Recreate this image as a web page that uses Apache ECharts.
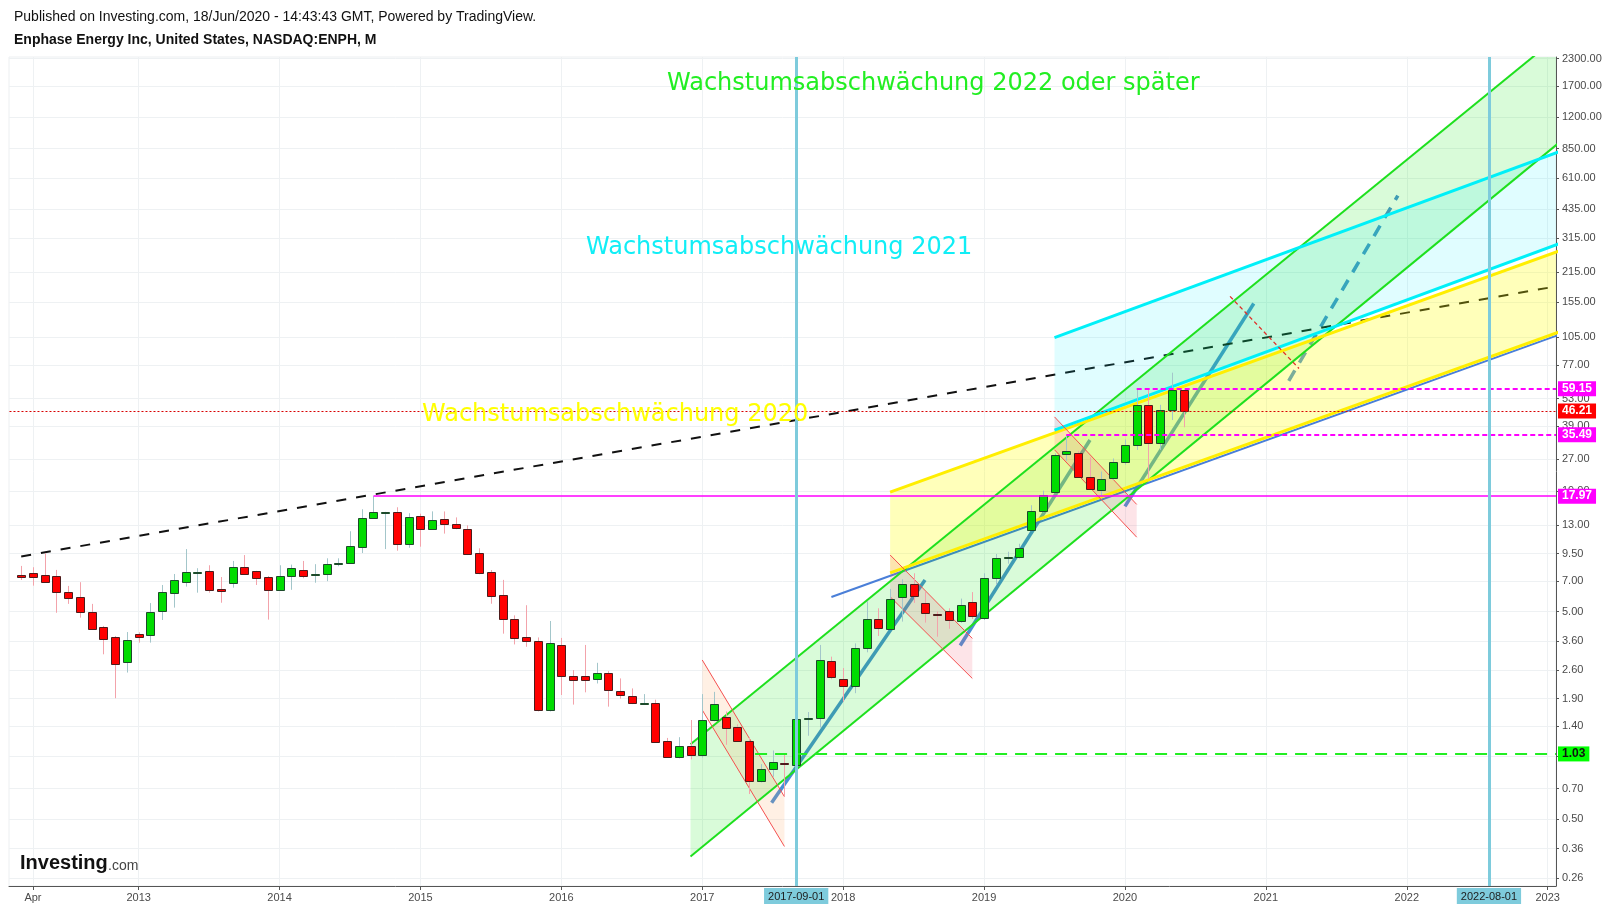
<!DOCTYPE html>
<html>
<head>
<meta charset="utf-8">
<title>Enphase Energy Inc, NASDAQ:ENPH, M</title>
<script src="https://cdn.jsdelivr.net/npm/echarts@6/dist/echarts.min.js"></script>
<style>
  html, body { margin: 0; padding: 0; background: #ffffff; }
  #chart { width: 1614px; height: 910px; }
</style>
</head>
<body>
<div id="chart"></div>
<script>
// ---- Monthly candles, ENPH (NASDAQ), Mar 2012 .. Jun 2020 ----
const months = [
  '2012-03','2012-04','2012-05','2012-06','2012-07','2012-08','2012-09','2012-10','2012-11','2012-12',
  '2013-01','2013-02','2013-03','2013-04','2013-05','2013-06','2013-07','2013-08','2013-09','2013-10','2013-11','2013-12',
  '2014-01','2014-02','2014-03','2014-04','2014-05','2014-06','2014-07','2014-08','2014-09','2014-10','2014-11','2014-12',
  '2015-01','2015-02','2015-03','2015-04','2015-05','2015-06','2015-07','2015-08','2015-09','2015-10','2015-11','2015-12',
  '2016-01','2016-02','2016-03','2016-04','2016-05','2016-06','2016-07','2016-08','2016-09','2016-10','2016-11','2016-12',
  '2017-01','2017-02','2017-03','2017-04','2017-05','2017-06','2017-07','2017-08','2017-09','2017-10','2017-11','2017-12',
  '2018-01','2018-02','2018-03','2018-04','2018-05','2018-06','2018-07','2018-08','2018-09','2018-10','2018-11','2018-12',
  '2019-01','2019-02','2019-03','2019-04','2019-05','2019-06','2019-07','2019-08','2019-09','2019-10','2019-11','2019-12',
  '2020-01','2020-02','2020-03','2020-04','2020-05','2020-06'
];
const opens = [
  7.47,7.64,7.47,7.39,6.19,5.86,4.96,4.19,3.75,2.85,
  3.88,3.84,5.01,6.12,6.92,7.70,7.81,6.40,6.84,8.17,7.81,7.31,
  6.33,7.39,7.90,7.55,7.56,8.43,8.55,10.19,14.05,15.00,15.03,10.53,
  14.38,12.45,13.92,13.15,12.45,9.53,7.73,5.99,4.59,3.75,3.59,1.67,
  3.44,2.44,2.44,2.36,2.52,2.07,1.95,1.79,1.82,1.19,0.99,1.12,
  1.015,1.50,1.55,1.39,1.19,0.76,0.87,0.935,0.91,1.53,1.53,2.88,
  2.37,2.17,3.32,4.59,4.13,5.86,6.76,5.48,4.85,5.00,4.52,5.56,
  4.64,7.23,9.15,9.12,12.31,15.20,18.75,28.60,28.90,22.17,19.39,21.90,
  26.20,31.60,49.20,32.30,46.60,58.20
];
const highs = [
  8.29,8.17,9.54,7.93,6.64,6.92,5.44,4.26,3.81,3.98,
  3.97,5.49,6.71,7.58,9.99,8.08,8.35,7.33,8.76,9.35,7.85,7.41,
  8.35,8.41,8.76,8.45,9.02,9.02,12.18,15.54,17.97,15.10,15.89,14.87,
  14.80,15.18,15.17,14.20,13.00,10.08,7.92,7.10,4.79,5.36,3.75,4.50,
  3.73,2.61,3.45,2.83,2.58,2.38,2.13,2.00,1.88,1.23,1.24,1.50,
  2.00,2.05,1.65,1.43,1.24,0.92,1.07,1.04,1.65,1.64,3.45,3.03,
  2.67,3.51,5.62,5.18,6.42,7.15,7.64,6.21,5.00,5.18,5.77,6.20,
  7.64,9.46,9.70,10.60,16.25,19.10,28.90,35.49,29.70,27.66,23.60,27.30,
  33.70,59.15,58.50,49.50,70.70,58.30
];
const lows = [
  7.09,6.66,6.88,4.93,5.44,4.67,4.07,3.11,1.91,2.54,
  3.54,3.54,4.55,5.22,6.59,6.16,6.16,5.51,6.51,7.50,6.71,4.57,
  6.30,6.36,7.23,6.88,7.00,8.26,8.50,9.56,14.00,9.99,9.81,10.14,
  10.26,12.40,11.86,12.45,9.35,7.56,5.45,3.91,3.47,3.38,1.65,1.65,
  1.98,1.78,2.04,2.25,1.74,1.90,1.79,1.78,1.17,0.99,0.98,0.97,
  0.99,1.48,1.14,1.18,0.66,0.75,0.80,0.64,0.90,1.26,1.38,2.36,
  1.84,2.02,3.18,3.81,4.10,4.47,5.50,4.42,3.78,4.13,4.41,4.60,
  4.55,6.71,8.50,9.00,12.20,15.00,18.60,26.60,22.00,19.30,17.80,21.50,
  25.50,30.00,21.80,30.00,41.80,38.60
];
const closes = [
  7.28,7.31,6.92,6.19,5.79,4.96,4.13,3.67,2.78,3.63,
  3.75,4.96,6.19,7.07,7.73,7.75,6.33,6.26,8.17,7.56,7.23,6.33,
  7.39,8.08,7.39,7.56,8.44,8.55,10.30,14.07,15.03,15.05,10.53,14.22,
  12.45,13.76,13.13,12.59,9.43,7.64,5.92,4.59,3.71,3.58,1.67,3.51,
  2.44,2.33,2.33,2.52,2.09,1.99,1.80,1.82,1.18,1.00,1.12,1.015,
  1.50,1.79,1.37,1.19,0.76,0.87,0.94,0.925,1.51,1.535,2.91,2.41,
  2.20,3.32,4.59,4.15,5.73,6.76,5.92,4.90,4.82,4.52,5.40,4.77,
  7.23,9.02,9.20,10.08,15.20,18.14,28.29,29.60,22.17,19.39,21.82,26.17,
  31.60,49.20,32.30,46.60,58.20,46.21
];

// ---- Axis ticks ----
const xTickDates  = ['2012-04','2013-01','2014-01','2015-01','2016-01','2017-01','2018-01','2019-01','2020-01','2021-01','2022-01','2023-01'];
const xTickLabels = ['Apr','2013','2014','2015','2016','2017','2018','2019','2020','2021','2022','2023'];
const yTicks = [0.26,0.36,0.5,0.7,1,1.4,1.9,2.6,3.6,5,7,9.5,13,19,27,39,53,77,105,155,215,315,435,610,850,1200,1700,2300];

// ---- Horizontal price levels: value, first month (months since Jan 2012) ----
const levelValues = [59.15, 46.21, 35.49, 17.97, 1.03];
const levelStarts = [97, 1, 91, 32, 64.5];
// ---- Marked dates (vertical lines) ----
const markedDates = ['2017-09-01', '2022-08-01'];

// ---- Drawings, anchor points as [months since Jan 2012, price] ----
const trendLine      = [[2, 9.2], [135, 194]];
const greenTop       = [[59, 1.147], [135, 3690]];
const greenBottom    = [[59, 0.330], [135, 1127]];
const cyanTop        = [[90, 104.4], [135, 903]];
const cyanBottom     = [[90, 37.4], [135, 326]];
const yellowTop      = [[76, 18.8], [135, 300]];
const yellowBottom   = [[76, 7.67], [135, 122]];
const blueSupport    = [[71, 5.87], [135, 118.4]];
const rally2017      = [[65.91, 0.600], [78.97, 7.09]];
const rally2019      = [[81.97, 3.43], [93.02, 33.5]];
const rally2020      = [[96.0, 16.05], [106.97, 152.2]];
const rallyProjected = [[109.95, 64.6], [119.24, 504]];
const pullbackPath   = [[104.95, 164.8], [110.82, 74.1]];
const flag2017Top    = [[60, 2.92], [67, 0.641]];
const flag2017Bottom = [[60, 1.677], [67, 0.369]];
const flag2018Top    = [[76, 9.36], [83, 3.71]];
const flag2018Bottom = [[76, 5.89], [83, 2.38]];
const flag2019Top    = [[90, 43.3], [97, 16.4]];
const flag2019Bottom = [[90, 30.06], [97, 11.4]];

// months since Jan 2012
function monthIndex(s) {
  const p = s.split('-');
  return (parseInt(p[0], 10) - 2012) * 12 + (parseInt(p[1], 10) - 1);
}

const X_MIN = 0.96, X_MAX = 132.71;
const Y_MIN = 0.238, Y_MAX = 2345;

const candleData = months.map((m, i) => [monthIndex(m), opens[i], closes[i], lows[i], highs[i]]);
const xTickValues = xTickDates.map(monthIndex);
const xLabelOf = {};
xTickValues.forEach((v, i) => { xLabelOf[v] = xTickLabels[i]; });

const chart = echarts.init(document.getElementById('chart'), null, { renderer: 'canvas' });

function fillSeries(top, bottom, fill, z) {
  const pts = [top[0], top[1], bottom[1], bottom[0]];
  return {
    type: 'custom', z: z, clip: true, silent: true, animation: false,
    data: pts,
    renderItem: function (params, api) {
      if (params.dataIndex !== 0) return null;
      return {
        type: 'polygon',
        shape: { points: pts.map(p => api.coord(p)) },
        style: { fill: fill }
      };
    }
  };
}

function segSeries(points, color, width, type, z) {
  return {
    type: 'line', data: points, z: z, symbol: 'none', showSymbol: false,
    silent: true, clip: true, animation: false,
    lineStyle: { color: color, width: width, type: type || 'solid' }
  };
}

const GREEN_LINE = '#1ee01e';
const FLAG_LINE = '#f5504f';

function levelLine(i, color, width, type, labelBg, labelColor) {
  return [
    {
      coord: [levelStarts[i], levelValues[i]],
      lineStyle: { color: color, width: width, type: type },
      label: {
        show: true, position: 'end', distance: 2,
        formatter: levelValues[i].toFixed(2),
        backgroundColor: labelBg, color: labelColor,
        fontFamily: 'Liberation Sans, Arial, sans-serif', fontSize: 12, fontWeight: 'bold',
        padding: [2, 4, 1, 4]
      }
    },
    { coord: [X_MAX, levelValues[i]] }
  ];
}

function dateLine(d) {
  const m = monthIndex(d);
  return [
    {
      coord: [m, Y_MIN],
      lineStyle: { color: '#7ecbdc', width: 3, type: 'solid' },
      label: {
        show: true, position: 'start', distance: 2,
        formatter: d,
        backgroundColor: '#7ecbdc', color: '#1d1d1d',
        fontFamily: 'Liberation Sans, Arial, sans-serif', fontSize: 11,
        padding: [3, 4, 2, 4]
      }
    },
    { coord: [m, Y_MAX] }
  ];
}

const option = {
  backgroundColor: '#ffffff',
  animation: false,
  grid: { left: 9, right: 58, top: 57, bottom: 24, show: true, borderColor: '#eceff1', borderWidth: 1 },
  xAxis: {
    type: 'value', min: X_MIN, max: X_MAX,
    axisLine: { show: true, lineStyle: { color: '#555555', width: 1 } },
    axisTick: { show: true, length: 4, customValues: xTickValues, lineStyle: { color: '#555555' } },
    axisLabel: {
      customValues: xTickValues, margin: 6,
      color: '#4a4a4a', fontFamily: 'Liberation Sans, Arial, sans-serif', fontSize: 11,
      formatter: v => xLabelOf[Math.round(v)] || ''
    },
    splitLine: { show: true, lineStyle: { color: '#eef1f3', width: 1 } }
  },
  yAxis: {
    type: 'log', logBase: 10, min: Y_MIN, max: Y_MAX, position: 'right',
    axisLine: { show: true, lineStyle: { color: '#555555', width: 1 } },
    axisTick: { show: true, length: 3, customValues: yTicks, lineStyle: { color: '#555555' } },
    axisLabel: {
      customValues: yTicks, margin: 6,
      color: '#4a4a4a', fontFamily: 'Liberation Sans, Arial, sans-serif', fontSize: 11,
      formatter: v => Number(v).toFixed(2)
    },
    splitLine: { show: true, lineStyle: { color: '#eef1f3', width: 1 } }
  },
  graphic: [
    { type: 'text', x: 14, y: 17, z: 100, style: { text: 'Published on Investing.com, 18/Jun/2020 - 14:43:43 GMT, Powered by TradingView.', fill: '#111', font: '14px "Liberation Sans", Arial, sans-serif', verticalAlign: 'middle' } },
    { type: 'text', x: 14, y: 40, z: 100, style: { text: 'Enphase Energy Inc, United States, NASDAQ:ENPH, M', fill: '#111', font: 'bold 14px "Liberation Sans", Arial, sans-serif', verticalAlign: 'middle' } },
    { type: 'text', x: 667, y: 84, z: 100, style: { text: 'Wachstumsabschwächung 2022 oder später', fill: '#22ee22', font: '24px "DejaVu Sans", sans-serif', verticalAlign: 'middle' } },
    { type: 'text', x: 586, y: 248, z: 100, style: { text: 'Wachstumsabschwächung 2021', fill: '#11eef6', font: '24px "DejaVu Sans", sans-serif', verticalAlign: 'middle' } },
    { type: 'text', x: 422, y: 415, z: 100, style: { text: 'Wachstumsabschwächung 2020', fill: '#ffff00', font: '24px "DejaVu Sans", sans-serif', verticalAlign: 'middle' } },
    { type: 'text', x: 20, y: 863, z: 100, style: { text: 'Investing', fill: '#111', font: 'bold 20px "Liberation Sans", Arial, sans-serif', verticalAlign: 'middle' } },
    { type: 'text', x: 108, y: 866, z: 100, style: { text: '.com', fill: '#444', font: '14px "Liberation Sans", Arial, sans-serif', verticalAlign: 'middle' } }
  ],
  series: [
    // trend lines underneath the channel fills
    segSeries(rally2017, '#4a8fd4', 3.5, 'solid', 2),
    segSeries(rally2019, '#4a8fd4', 3.5, 'solid', 2),
    segSeries(rally2020, '#4a8fd4', 3.5, 'solid', 2),
    segSeries(rallyProjected, '#4a8fd4', 3.5, [12, 9], 2),
    segSeries(blueSupport, '#4a7fd8', 2, 'solid', 2),
    segSeries(trendLine, '#111111', 2, [10, 10], 2),

    // channel fills
    fillSeries(greenTop, greenBottom, 'rgba(0,230,0,0.15)', 3),
    fillSeries(yellowTop, yellowBottom, 'rgba(255,255,0,0.27)', 3),
    fillSeries(cyanTop, cyanBottom, 'rgba(0,240,255,0.12)', 3),
    fillSeries(flag2017Top, flag2017Bottom, 'rgba(255,160,90,0.16)', 3),
    fillSeries(flag2018Top, flag2018Bottom, 'rgba(240,90,110,0.16)', 3),
    fillSeries(flag2019Top, flag2019Bottom, 'rgba(240,90,110,0.16)', 3),

    // channel edges
    segSeries(greenTop, GREEN_LINE, 2, 'solid', 4),
    segSeries(greenBottom, GREEN_LINE, 2, 'solid', 4),
    segSeries(yellowTop, '#ffee00', 3, 'solid', 4),
    segSeries(yellowBottom, '#ffee00', 3, 'solid', 4),
    segSeries(cyanTop, '#00f0f8', 3, 'solid', 4),
    segSeries(cyanBottom, '#00f0f8', 3, 'solid', 4),
    segSeries(flag2017Top, FLAG_LINE, 1, 'solid', 4),
    segSeries(flag2017Bottom, FLAG_LINE, 1, 'solid', 4),
    segSeries(flag2018Top, FLAG_LINE, 1, 'solid', 4),
    segSeries(flag2018Bottom, FLAG_LINE, 1, 'solid', 4),
    segSeries(flag2019Top, FLAG_LINE, 1, 'solid', 4),
    segSeries(flag2019Bottom, FLAG_LINE, 1, 'solid', 4),
    segSeries(pullbackPath, '#e0302a', 1.3, [4, 3], 4),

    // candles
    {
      type: 'custom', name: 'ENPH', z: 10, clip: true, animation: false,
      encode: { x: 0, y: [1, 2, 3, 4] },
      data: candleData,
      renderItem: function (params, api) {
        const x = api.value(0), o = api.value(1), c = api.value(2), l = api.value(3), h = api.value(4);
        const pO = api.coord([x, o]), pC = api.coord([x, c]);
        const pL = api.coord([x, l]), pH = api.coord([x, h]);
        const step = api.coord([x + 1, o])[0] - pO[0];
        const w = Math.round(step * 0.68);
        const up = c >= o;
        const top = Math.min(pO[1], pC[1]);
        const bot = Math.max(pO[1], pC[1]);
        const cx = Math.round(pO[0]);
        return {
          type: 'group',
          children: [
            { type: 'line', shape: { x1: cx + 0.5, y1: pH[1], x2: cx + 0.5, y2: pL[1] },
              style: { stroke: up ? '#a3c6ca' : '#f3a3ab', lineWidth: 1 } },
            { type: 'rect', shape: { x: cx - w / 2 + 0.5, y: Math.round(top) + 0.5, width: w, height: Math.max(Math.round(bot - top), 1) },
              style: { fill: up ? '#00dc00' : '#ff0000', stroke: up ? '#1d4a2b' : '#4d1c1c', lineWidth: 1 } }
          ]
        };
      }
    },

    // price levels and marked dates
    {
      type: 'line', data: [], z: 20, silent: true, animation: false,
      markLine: {
        z: 20, silent: true, symbol: ['none', 'none'], animation: false,
        data: [
          levelLine(1, '#d80000', 1, [2, 2], '#ff0000', '#ffffff'),
          levelLine(0, '#ff00ff', 2, [5, 3], '#ff00ff', '#ffffff'),
          levelLine(2, '#ff00ff', 2, [5, 3], '#ff00ff', '#ffffff'),
          levelLine(3, '#ff00ff', 1.5, 'solid', '#ff00ff', '#ffffff'),
          levelLine(4, '#22ee22', 2, [12, 8], '#00ff00', '#111111'),
          dateLine(markedDates[0]),
          dateLine(markedDates[1])
        ]
      }
    }
  ]
};

chart.setOption(option);
</script>
</body>
</html>
